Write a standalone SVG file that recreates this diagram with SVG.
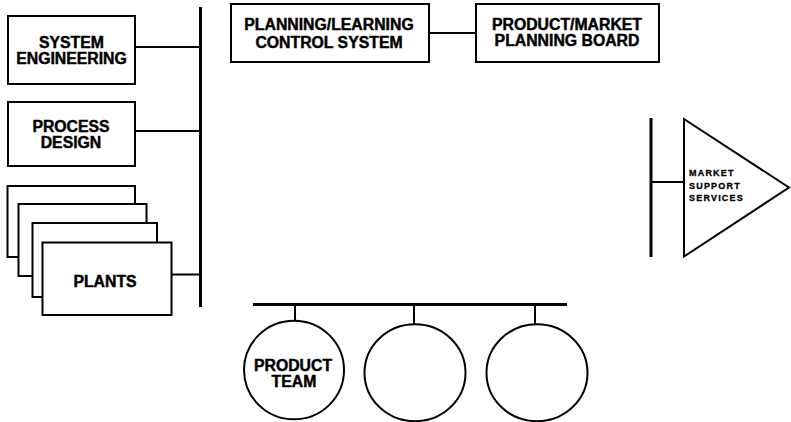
<svg xmlns="http://www.w3.org/2000/svg" width="791" height="422" viewBox="0 0 791 422">
<style>
.box{fill:#fff;stroke:#000;stroke-width:2}
.ln{stroke:#000;stroke-width:2;fill:none}
.bar{stroke:#000;stroke-width:3;fill:none}
.t{font-family:"Liberation Sans",Arial,Helvetica,sans-serif;font-weight:bold;font-size:15.8px;text-anchor:middle;fill:#000;stroke:#000;stroke-width:0.45px}
.s{font-family:"Liberation Sans",Arial,Helvetica,sans-serif;font-weight:bold;font-size:9px;letter-spacing:1.2px;fill:#000;stroke:#000;stroke-width:0.3px}
</style>
<rect width="791" height="422" fill="#fff"/>
<g id="connectors">
<line class="bar" x1="200.5" y1="7" x2="200.5" y2="307"/>
<line class="ln" x1="135" y1="47" x2="200" y2="47"/>
<line class="ln" x1="135" y1="131" x2="200" y2="131"/>
<line class="ln" x1="172" y1="274.5" x2="200" y2="274.5"/>
<line class="ln" x1="429" y1="33" x2="476" y2="33"/>
<line class="bar" x1="651" y1="118" x2="651" y2="257"/>
<line class="ln" x1="651" y1="182" x2="684" y2="182"/>
<line class="bar" x1="253" y1="304.5" x2="567" y2="304.5"/>
<line class="ln" x1="295" y1="304" x2="295" y2="321"/>
<line class="ln" x1="414" y1="304" x2="414" y2="324"/>
<line class="ln" x1="535" y1="304" x2="535" y2="324"/>
</g>
<g id="system-engineering">
<rect class="box" x="8" y="16" width="127" height="68"/>
<text class="t" x="71.5" y="48.3">SYSTEM</text>
<text class="t" x="71.5" y="64">ENGINEERING</text>
</g>
<g id="process-design">
<rect class="box" x="8" y="102" width="127" height="64"/>
<text class="t" x="71" y="132">PROCESS</text>
<text class="t" x="71" y="148.3">DESIGN</text>
</g>
<g id="plants">
<rect class="box" x="7.5" y="186" width="127.5" height="71"/>
<rect class="box" x="18.5" y="204" width="128" height="72"/>
<rect class="box" x="32.5" y="223" width="124.5" height="74"/>
<rect class="box" x="42.5" y="242.5" width="129" height="72.5"/>
<text class="t" x="105" y="286.5">PLANTS</text>
</g>
<g id="planning-learning">
<rect class="box" x="231" y="4" width="198" height="58"/>
<text class="t" x="329" y="30">PLANNING/LEARNING</text>
<text class="t" x="329" y="48">CONTROL SYSTEM</text>
</g>
<g id="product-market">
<rect class="box" x="476" y="4" width="183" height="58"/>
<text class="t" x="567" y="30">PRODUCT/MARKET</text>
<text class="t" x="567" y="46">PLANNING BOARD</text>
</g>
<g id="market-support">
<polygon class="box" points="684,119 789,187.5 684,256.5"/>
<text class="s" x="689" y="176">MARKET</text>
<text class="s" x="689" y="188.5">SUPPORT</text>
<text class="s" x="689" y="201">SERVICES</text>
</g>
<g id="product-team">
<ellipse class="box" cx="294" cy="370" rx="50" ry="49.3"/>
<text class="t" x="293" y="370.7">PRODUCT</text>
<text class="t" x="294" y="386.7">TEAM</text>
</g>
<g id="team-2">
<ellipse class="box" cx="415" cy="372.7" rx="50.5" ry="48.5"/>
</g>
<g id="team-3">
<ellipse class="box" cx="537" cy="372.7" rx="50.5" ry="48.5"/>
</g>
</svg>
